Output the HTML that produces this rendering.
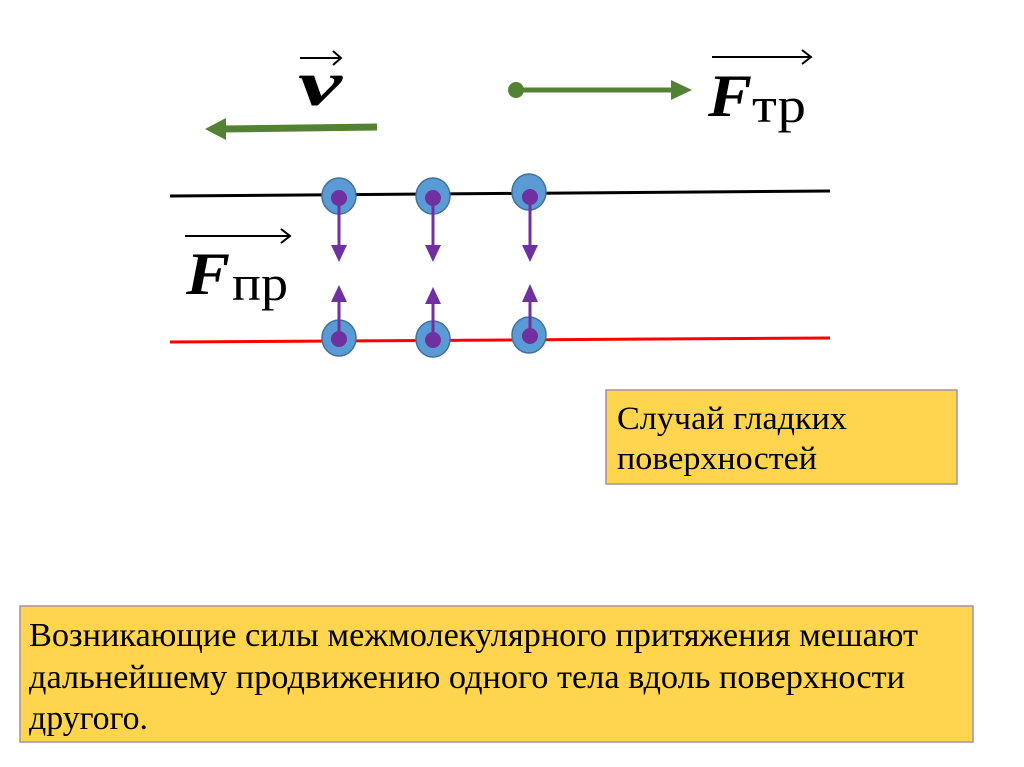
<!DOCTYPE html>
<html><head><meta charset="utf-8"><style>
html,body{margin:0;padding:0;background:#fff;width:1024px;height:767px;overflow:hidden}
svg text{font-family:"Liberation Serif",serif}
</style></head><body>
<svg width="1024" height="767" viewBox="0 0 1024 767" xmlns="http://www.w3.org/2000/svg">
<g stroke="#000" stroke-width="2" fill="none">
<line x1="300" y1="58" x2="340" y2="58"/><polyline points="333,51 341,58 333,65"/>
<line x1="712" y1="57" x2="810" y2="57"/><polyline points="802,50 811,57 802,64"/>
<line x1="185" y1="236" x2="289" y2="236"/><polyline points="281,229 290,236 281,243"/>
</g>
<text x="298" y="105" font-size="64" font-weight="bold" font-style="italic" textLength="44" lengthAdjust="spacingAndGlyphs">v</text>
<text x="708" y="116" font-size="60" font-weight="bold" font-style="italic" textLength="44" lengthAdjust="spacingAndGlyphs">F</text>
<text x="752" y="122" font-size="50" textLength="54" lengthAdjust="spacingAndGlyphs">тр</text>
<text x="186" y="294" font-size="60" font-weight="bold" font-style="italic" textLength="44" lengthAdjust="spacingAndGlyphs">F</text>
<text x="232" y="300" font-size="50" textLength="56" lengthAdjust="spacingAndGlyphs">пр</text>
<line x1="377" y1="127" x2="222" y2="129" stroke="#548235" stroke-width="7"/>
<polygon points="205,129 226,118 226,140" fill="#548235"/>
<circle cx="516" cy="90" r="8" fill="#548235"/>
<line x1="516" y1="90" x2="675" y2="90" stroke="#548235" stroke-width="5"/>
<polygon points="692,90 671,80 671,100" fill="#548235"/>
<line x1="170" y1="196" x2="830" y2="191" stroke="#000" stroke-width="3"/>
<line x1="170" y1="342" x2="830" y2="338" stroke="#f00" stroke-width="3"/>
<g fill="#5B9BD5" stroke="#41719C" stroke-width="1.5">
<ellipse cx="339" cy="196" rx="17" ry="18"/><ellipse cx="433" cy="196" rx="17" ry="18"/><ellipse cx="529" cy="192" rx="17" ry="18"/>
<ellipse cx="339" cy="338" rx="17" ry="18"/><ellipse cx="433" cy="339" rx="17" ry="18"/><ellipse cx="529" cy="335" rx="17" ry="18"/>
</g>
<g fill="#7030A0">
<circle cx="339" cy="198" r="8"/><circle cx="433" cy="198" r="8"/><circle cx="530" cy="197" r="8"/>
<circle cx="339" cy="339" r="8"/><circle cx="433" cy="340" r="8"/><circle cx="530" cy="336" r="8"/>
</g>
<g stroke="#7030A0" stroke-width="3">
<line x1="339" y1="198" x2="339" y2="248"/><line x1="433" y1="198" x2="433" y2="248"/><line x1="530" y1="197" x2="530" y2="248"/>
<line x1="339" y1="339" x2="339" y2="300"/><line x1="433" y1="340" x2="433" y2="302"/><line x1="530" y1="336" x2="530" y2="300"/>
</g>
<g fill="#7030A0">
<polygon points="331,245 347,245 339,262"/><polygon points="425,245 441,245 433,262"/><polygon points="522,245 538,245 530,262"/>
<polygon points="331,302 347,302 339,285"/><polygon points="425,304 441,304 433,287"/><polygon points="522,302 538,302 530,284"/>
</g>
<rect x="606" y="390" width="351" height="94" fill="#FFD54F" stroke="#A58FA8" stroke-width="1.5"/>
<text x="617" y="429" font-size="33" textLength="230" lengthAdjust="spacingAndGlyphs">Случай гладких</text>
<text x="617" y="469" font-size="33" textLength="200" lengthAdjust="spacingAndGlyphs">поверхностей</text>
<rect x="20" y="606" width="953" height="136" fill="#FFD54F" stroke="#A58FA8" stroke-width="1.5"/>
<text x="29" y="646" font-size="34" textLength="889" lengthAdjust="spacingAndGlyphs">Возникающие силы межмолекулярного притяжения мешают</text>
<text x="29" y="688" font-size="34" textLength="876" lengthAdjust="spacingAndGlyphs">дальнейшему продвижению одного тела вдоль поверхности</text>
<text x="29" y="729" font-size="34" textLength="119" lengthAdjust="spacingAndGlyphs">другого.</text>
</svg>
</body></html>
